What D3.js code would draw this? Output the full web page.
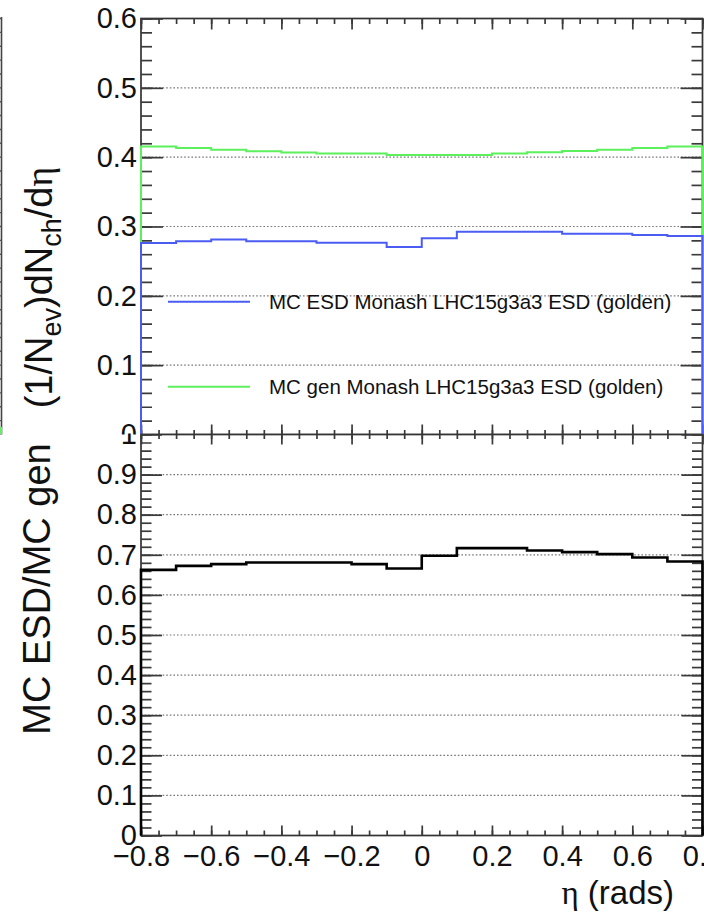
<!DOCTYPE html>
<html lang="en">
<head>
<meta charset="UTF-8">
<title>eta distribution</title>
<style>
	body{margin:0;background:#fff;}
	svg{display:block;font-family:"Liberation Sans",Arial,sans-serif;}
	.tick line{stroke:#3a3a3a;stroke-width:1.7;}
	.domain{display:none;}
	.tick text{fill:#111;font-size:29px;}
	.grid line{stroke:#777;stroke-width:1.2;stroke-dasharray:1.6,2;}
</style>
</head>
<body>
<script src="https://cdn.jsdelivr.net/npm/d3@7/dist/d3.min.js"></script>
<script>
	// bin edges in eta, 16 bins of 0.1
	var binEdges=[-0.8,-0.7,-0.6,-0.5,-0.4,-0.3,-0.2,-0.1,0,0.1,0.2,0.3,0.4,0.5,0.6,0.7,0.8];
	var esdValues=[0.2761,0.2789,0.2812,0.2789,0.2789,0.2765,0.2765,0.2704,0.2831,0.2925,0.2925,0.2925,0.2897,0.2897,0.2878,0.2864];
	var genValues=[0.4155,0.4131,0.4108,0.4085,0.4066,0.4052,0.4052,0.4033,0.4033,0.4033,0.4052,0.4070,0.4089,0.4108,0.4131,0.4155];
	var ratioValues=[0.6625,0.6725,0.6767,0.6808,0.6808,0.6808,0.6767,0.6658,0.6975,0.7167,0.7167,0.7108,0.7067,0.7017,0.6933,0.6833];

	var xTicks=[-0.8,-0.6,-0.4,-0.2,0,0.2,0.4,0.6,0.8];
	var yTicksTop=[0,0.1,0.2,0.3,0.4,0.5,0.6];
	var yTicksBottom=[0,0.1,0.2,0.3,0.4,0.5,0.6,0.7,0.8,0.9,1];
	var legendLabels=["MC ESD Monash LHC15g3a3 ESD (golden)","MC gen Monash LHC15g3a3 ESD (golden)"];

	var width=704,height=922;
	var left=141,right=702.5;
	var topY0=434.5,topY1=18.5;   // top pad frame
	var botY0=835.5,botY1=434.5;  // ratio pad frame

	var svg=d3.select('body').append('svg')
		.attr('width',width).attr('height',height);

	var xScale=d3.scaleLinear().domain([-0.8,0.8]).range([left,right]);
	var yTop=d3.scaleLinear().domain([0,0.6]).range([topY0,topY1]);
	var yBot=d3.scaleLinear().domain([0,1]).range([botY0,botY1]);

	var xMinor=d3.range(-0.8,0.8001,0.05);
	var yMinorTop=d3.range(0,0.6001,0.02);
	var yMinorBot=d3.range(0,1.0001,0.02);

	function fmt(d){
		if(Math.abs(d)<1e-9) return "0";
		if(Math.abs(d-1)<1e-9) return "1";
		return d3.format(".1f")(d).replace("-","\u2212");
	}

	var defs=svg.append('defs');
	defs.append('clipPath').attr('id','clipTop')
		.append('rect').attr('x',0).attr('y',0).attr('width',width).attr('height',topY0+0.9);
	defs.append('clipPath').attr('id','clipBot')
		.append('rect').attr('x',0).attr('y',botY1-0.9).attr('width',width).attr('height',height);

	// fragment of the neighbouring pad at the left edge
	var frag=svg.append('g');
	frag.append('line').attr('x1',1.5).attr('x2',1.5).attr('y1',17).attr('y2',866)
		.attr('stroke','#444').attr('stroke-width',1.6);
	frag.selectAll('.ft').data(yMinorTop).enter().append('line')
		.attr('x1',0).attr('x2',1.5)
		.attr('y1',function(d){return yTop(d);}).attr('y2',function(d){return yTop(d);})
		.attr('stroke','#555').attr('stroke-width',1.4);
	frag.selectAll('.fb').data(yMinorBot).enter().append('line')
		.attr('x1',0).attr('x2',1.5)
		.attr('y1',function(d){return yBot(d);}).attr('y2',function(d){return yBot(d);})
		.attr('stroke','#555').attr('stroke-width',1.4);
	frag.append('line').attr('x1',1).attr('x2',1).attr('y1',427).attr('y2',434)
		.attr('stroke','#66ee66').attr('stroke-width',2);

	function histPoints(vals){
		var pts=[[binEdges[0],0]];
		vals.forEach(function(v,i){
			pts.push([binEdges[i],v]);
			pts.push([binEdges[i+1],v]);
		});
		pts.push([binEdges[binEdges.length-1],0]);
		return pts;
	}

	function drawPad(g,yScale,yMajor,yMinor,y0,y1,majLen,minLen,xUpLen){
		// grid
		g.append('g').attr('class','grid')
			.selectAll('line').data(yMajor.filter(function(d,i){return i>0&&i<yMajor.length-1;}))
			.enter().append('line')
			.attr('x1',left).attr('x2',right)
			.attr('y1',function(d){return yScale(d);})
			.attr('y2',function(d){return yScale(d);});
		// frame
		g.append('rect').attr('x',left).attr('y',y1)
			.attr('width',right-left).attr('height',y0-y1)
			.attr('fill','none').attr('stroke','#333').attr('stroke-width',1.7);
		// y axes
		g.append('g').attr('transform','translate('+left+',0)')
			.call(d3.axisLeft(yScale).tickValues(yMajor).tickSize(-majLen).tickPadding(4).tickFormat(fmt));
		g.append('g').attr('transform','translate('+left+',0)')
			.call(d3.axisLeft(yScale).tickValues(yMinor).tickSize(-minLen).tickFormat(''));
		g.append('g').attr('transform','translate('+right+',0)')
			.call(d3.axisRight(yScale).tickValues(yMajor).tickSize(-majLen).tickFormat(''));
		g.append('g').attr('transform','translate('+right+',0)')
			.call(d3.axisRight(yScale).tickValues(yMinor).tickSize(-minLen).tickFormat(''));
		// x ticks on top edge
		g.append('g').attr('transform','translate(0,'+y1+')')
			.call(d3.axisTop(xScale).tickValues(xTicks).tickSize(-xUpLen[0]).tickFormat(''));
		g.append('g').attr('transform','translate(0,'+y1+')')
			.call(d3.axisTop(xScale).tickValues(xMinor).tickSize(-xUpLen[1]).tickFormat(''));
	}

	// ---- top pad ----
	var topPad=svg.append('g').attr('clip-path','url(#clipTop)');
	drawPad(topPad,yTop,yTicksTop,yMinorTop,topY0,topY1,22,11,[11,5.5]);
	topPad.append('g').attr('transform','translate(0,'+topY0+')')
		.call(d3.axisBottom(xScale).tickValues(xTicks).tickSize(-10).tickFormat(''));
	topPad.append('g').attr('transform','translate(0,'+topY0+')')
		.call(d3.axisBottom(xScale).tickValues(xMinor).tickSize(-4.5).tickFormat(''));

	var line=d3.line()
		.x(function(d){return xScale(d[0]);});

	topPad.append('path').datum(histPoints(genValues))
		.attr('d',line.y(function(d){return yTop(d[1]);}))
		.attr('fill','none').attr('stroke','#5cf05c').attr('stroke-width',2);
	topPad.append('path').datum(histPoints(esdValues))
		.attr('d',line.y(function(d){return yTop(d[1]);}))
		.attr('fill','none').attr('stroke','#4a5cf2').attr('stroke-width',2);

	// legend (no fill)
	var legendColors=['#4a5cf2','#5cf05c'];
	var legendY=[301.7,386.7];
	var leg=topPad.append('g');
	leg.selectAll('line.lg').data(legendLabels).enter().append('line')
		.attr('x1',168).attr('x2',250)
		.attr('y1',function(d,i){return legendY[i];})
		.attr('y2',function(d,i){return legendY[i];})
		.attr('stroke',function(d,i){return legendColors[i];})
		.attr('stroke-width',2);
	leg.selectAll('text').data(legendLabels).enter().append('text')
		.attr('x',269)
		.attr('y',function(d,i){return legendY[i];})
		.attr('dy','0.35em')
		.attr('font-size','20.5px')
		.attr('fill','#111')
		.text(function(d){return d;});

	// ---- ratio pad ----
	var botPad=svg.append('g').attr('clip-path','url(#clipBot)');
	botPad.append('rect').attr('x',0).attr('y',botY1).attr('width',width).attr('height',height-botY1).attr('fill','#fff');
	drawPad(botPad,yBot,yTicksBottom,yMinorBot,botY0,botY1,21,10.5,[10,4.5]);
	botPad.append('g').attr('transform','translate(0,'+botY0+')')
		.call(d3.axisBottom(xScale).tickValues(xTicks).tickSize(-10).tickPadding(10).tickFormat(fmt));
	botPad.append('g').attr('transform','translate(0,'+botY0+')')
		.call(d3.axisBottom(xScale).tickValues(xMinor).tickSize(-5).tickFormat(''));

	botPad.append('path').datum(histPoints(ratioValues))
		.attr('d',d3.line().x(function(d){return xScale(d[0]);}).y(function(d){return yBot(d[1]);}))
		.attr('fill','none').attr('stroke','#000').attr('stroke-width',2.6);

	// redraw the top pad's left edge bits over the ratio pad boundary
	// axis titles
	var t1=svg.append('text')
		.attr('transform','translate(52,287.5) rotate(-90)')
		.attr('text-anchor','middle')
		.attr('font-size','38px')
		.attr('fill','#111');
	t1.append('tspan').text('(1/N');
	t1.append('tspan').attr('font-size','27px').attr('dy',9).text('ev');
	t1.append('tspan').attr('dy',-9).text(')dN');
	t1.append('tspan').attr('font-size','27px').attr('dy',9).text('ch');
	t1.append('tspan').attr('dy',-9).text('/d');
	t1.append('tspan').attr('font-family','"Liberation Serif","DejaVu Serif",serif').text('\u03b7');

	svg.append('text')
		.attr('transform','translate(50,589) rotate(-90)')
		.attr('text-anchor','middle')
		.attr('font-size','38px')
		.attr('fill','#111')
		.text('MC ESD/MC gen');

	var xt=svg.append('text')
		.attr('x',674).attr('y',904)
		.attr('text-anchor','end')
		.attr('font-size','33px')
		.attr('fill','#111');
	xt.append('tspan').attr('font-family','"Liberation Serif","DejaVu Serif",serif').text('\u03b7');
	xt.append('tspan').text(' (rads)');
</script>
</body>
</html>
